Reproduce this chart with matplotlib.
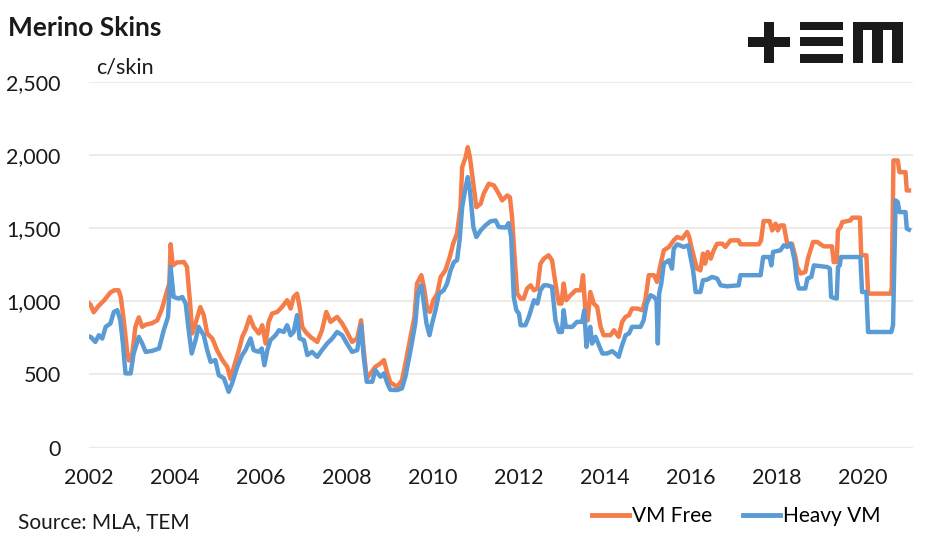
import matplotlib
matplotlib.use("Agg")
import matplotlib.pyplot as plt
from matplotlib.patches import Rectangle
from matplotlib.lines import Line2D

plt.rcParams['font.family'] = ['Lato', 'DejaVu Sans']

# values (c/skin), decimal years
free_yr = [2002.00, 2002.05, 2002.12, 2002.24, 2002.36, 2002.51, 2002.60, 2002.70, 2002.75, 2002.82,
           2002.90, 2002.94, 2003.02, 2003.09, 2003.17, 2003.25, 2003.33, 2003.48, 2003.60, 2003.71,
           2003.83, 2003.88, 2003.91, 2003.96, 2004.06, 2004.22, 2004.29, 2004.37, 2004.41, 2004.49,
           2004.60, 2004.68, 2004.76, 2004.88, 2004.99, 2005.11, 2005.23, 2005.30, 2005.38, 2005.50,
           2005.58, 2005.65, 2005.75, 2005.84, 2005.96, 2006.04, 2006.12, 2006.19, 2006.27, 2006.39,
           2006.50, 2006.62, 2006.70, 2006.77, 2006.85, 2006.91, 2006.97, 2007.05, 2007.16, 2007.32,
           2007.43, 2007.53, 2007.63, 2007.78, 2007.90, 2008.01, 2008.13, 2008.25, 2008.34, 2008.40,
           2008.47, 2008.56, 2008.67, 2008.79, 2008.87, 2008.95, 2009.02, 2009.18, 2009.29, 2009.37,
           2009.49, 2009.58, 2009.64, 2009.74, 2009.80, 2009.88, 2009.94, 2010.02, 2010.11, 2010.19,
           2010.30, 2010.40, 2010.48, 2010.57, 2010.65, 2010.69, 2010.77, 2010.82, 2010.87, 2010.95,
           2011.02, 2011.12, 2011.19, 2011.31, 2011.43, 2011.54, 2011.62, 2011.74, 2011.80, 2011.85,
           2011.91, 2011.97, 2012.05, 2012.12, 2012.20, 2012.28, 2012.36, 2012.44, 2012.51, 2012.59,
           2012.70, 2012.78, 2012.86, 2012.94, 2013.00, 2013.05, 2013.11, 2013.21, 2013.33, 2013.45,
           2013.50, 2013.55, 2013.61, 2013.67, 2013.75, 2013.83, 2013.91, 2013.98, 2014.14, 2014.22,
           2014.33, 2014.41, 2014.49, 2014.57, 2014.64, 2014.76, 2014.88, 2014.95, 2015.03, 2015.15,
           2015.22, 2015.29, 2015.38, 2015.50, 2015.61, 2015.69, 2015.81, 2015.92, 2015.97, 2016.02,
           2016.08, 2016.15, 2016.23, 2016.29, 2016.34, 2016.40, 2016.47, 2016.54, 2016.62, 2016.74,
           2016.81, 2016.93, 2017.12, 2017.16, 2017.59, 2017.64, 2017.70, 2017.84, 2017.90, 2017.98,
           2018.03, 2018.09, 2018.17, 2018.25, 2018.36, 2018.44, 2018.48, 2018.56, 2018.67, 2018.73,
           2018.79, 2018.85, 2018.95, 2019.02, 2019.10, 2019.29, 2019.33, 2019.40, 2019.43, 2019.49,
           2019.53, 2019.72, 2019.76, 2019.94, 2019.97, 2020.09, 2020.13, 2020.65, 2020.68, 2020.72,
           2020.82, 2020.86, 2021.00, 2021.03, 2021.08]
free_val = [990, 975, 925, 970, 1005, 1060, 1075, 1075, 1030, 870,
            650, 595, 645, 825, 890, 825, 840, 850, 870, 950,
            1075, 1120, 1390, 1245, 1265, 1268, 1235, 960, 780, 850,
            960, 905, 780, 745, 665, 600, 550, 470, 550, 670,
            760, 802, 893, 825, 780, 836, 711, 859, 916, 927,
            961, 1007, 950, 1029, 1052, 961, 825, 790, 757, 722,
            802, 927, 859, 893, 848, 790, 722, 746, 870, 666,
            473, 507, 552, 575, 598, 507, 445, 416, 460, 575,
            757, 893, 1121, 1178, 1098, 939, 927, 1007, 1052, 1166,
            1211, 1302, 1393, 1462, 1643, 1916, 1984, 2052, 1984, 1803,
            1643, 1666, 1735, 1803, 1791, 1735, 1689, 1723, 1711, 1575,
            1302, 1052, 1018, 1018, 1087, 1109, 1075, 1087, 1257, 1291,
            1314, 1280, 1121, 984, 984, 1121, 1007, 1041, 1075, 1075,
            1178, 961, 870, 1063, 984, 961, 825, 768, 768, 802,
            757, 859, 893, 905, 950, 950, 939, 1007, 1178, 1178,
            1132, 1234, 1348, 1371, 1416, 1439, 1428, 1473, 1440, 1371,
            1302, 1223, 1211, 1325, 1257, 1337, 1291, 1348, 1393, 1393,
            1371, 1416, 1416, 1389, 1389, 1416, 1548, 1548, 1484, 1530,
            1484, 1518, 1518, 1393, 1393, 1302, 1234, 1189, 1200, 1291,
            1348, 1405, 1405, 1390, 1375, 1375, 1268, 1268, 1484, 1507,
            1541, 1552, 1571, 1571, 1314, 1314, 1052, 1052, 1087, 1962,
            1962, 1882, 1882, 1757, 1757]

heavy_yr = [2002.00, 2002.05, 2002.16, 2002.24, 2002.32, 2002.40, 2002.51, 2002.59, 2002.67, 2002.74,
            2002.80, 2002.86, 2002.98, 2003.05, 2003.17, 2003.25, 2003.33, 2003.48, 2003.64, 2003.75,
            2003.85, 2003.91, 2003.98, 2004.10, 2004.18, 2004.26, 2004.33, 2004.40, 2004.49, 2004.56,
            2004.68, 2004.76, 2004.84, 2004.95, 2005.03, 2005.15, 2005.26, 2005.34, 2005.46, 2005.57,
            2005.65, 2005.77, 2005.84, 2005.96, 2006.03, 2006.09, 2006.16, 2006.23, 2006.35, 2006.43,
            2006.54, 2006.62, 2006.70, 2006.77, 2006.85, 2006.91, 2007.01, 2007.09, 2007.20, 2007.32,
            2007.43, 2007.55, 2007.67, 2007.78, 2007.90, 2008.01, 2008.13, 2008.25, 2008.34, 2008.40,
            2008.47, 2008.60, 2008.67, 2008.79, 2008.87, 2008.95, 2009.02, 2009.18, 2009.29, 2009.37,
            2009.49, 2009.60, 2009.66, 2009.74, 2009.80, 2009.86, 2009.93, 2009.99, 2010.07, 2010.15,
            2010.26, 2010.34, 2010.42, 2010.50, 2010.57, 2010.63, 2010.69, 2010.77, 2010.82, 2010.87,
            2010.95, 2011.02, 2011.12, 2011.23, 2011.35, 2011.47, 2011.54, 2011.70, 2011.77, 2011.83,
            2011.89, 2011.95, 2012.01, 2012.05, 2012.16, 2012.24, 2012.36, 2012.44, 2012.51, 2012.59,
            2012.67, 2012.78, 2012.86, 2012.94, 2013.01, 2013.05, 2013.10, 2013.25, 2013.36, 2013.48,
            2013.53, 2013.58, 2013.62, 2013.67, 2013.71, 2013.79, 2013.87, 2013.95, 2014.06, 2014.18,
            2014.25, 2014.33, 2014.41, 2014.49, 2014.57, 2014.64, 2014.84, 2014.91, 2014.98, 2015.07,
            2015.15, 2015.21, 2015.24, 2015.27, 2015.32, 2015.38, 2015.50, 2015.57, 2015.61, 2015.69,
            2015.84, 2015.95, 2016.00, 2016.06, 2016.12, 2016.23, 2016.29, 2016.39, 2016.50, 2016.62,
            2016.70, 2016.85, 2017.12, 2017.16, 2017.63, 2017.69, 2017.84, 2017.88, 2017.92, 2018.09,
            2018.17, 2018.25, 2018.33, 2018.37, 2018.42, 2018.47, 2018.52, 2018.67, 2018.72, 2018.81,
            2018.87, 2019.18, 2019.24, 2019.27, 2019.40, 2019.43, 2019.47, 2019.50, 2019.95, 2019.99,
            2020.09, 2020.13, 2020.67, 2020.71, 2020.77, 2020.82, 2020.86, 2021.00, 2021.03, 2021.08]
heavy_val = [760, 757, 722, 768, 745, 825, 848, 927, 939, 870,
             711, 507, 507, 643, 757, 711, 654, 661, 677, 802,
             893, 1234, 1029, 1018, 1029, 984, 802, 643, 734, 825,
             768, 666, 586, 598, 495, 473, 381, 439, 552, 630,
             666, 746, 666, 654, 677, 563, 666, 734, 768, 802,
             790, 836, 768, 790, 905, 746, 734, 632, 654, 620,
             666, 711, 746, 790, 768, 711, 654, 666, 836, 620,
             450, 450, 529, 484, 507, 439, 395, 393, 405, 484,
             666, 848, 1052, 1109, 984, 848, 768, 848, 939, 1052,
             1075, 1121, 1211, 1268, 1280, 1416, 1643, 1780, 1848, 1757,
             1507, 1439, 1484, 1518, 1546, 1552, 1507, 1503, 1534, 1439,
             1029, 939, 916, 836, 836, 893, 1007, 984, 1075, 1109,
             1109, 1098, 870, 790, 790, 939, 825, 825, 859, 859,
             939, 688, 780, 825, 711, 757, 700, 643, 643, 659,
             643, 620, 700, 768, 780, 825, 825, 870, 984, 1041,
             1029, 1007, 711, 1052, 1121, 1257, 1280, 1223, 1359, 1389,
             1371, 1382, 1302, 1211, 1063, 1063, 1143, 1148, 1166, 1155,
             1109, 1102, 1109, 1178, 1178, 1302, 1302, 1245, 1337, 1348,
             1382, 1371, 1393, 1348, 1280, 1143, 1087, 1087, 1155, 1166,
             1245, 1234, 1223, 1029, 1018, 1234, 1245, 1302, 1302, 1063,
             1063, 790, 790, 836, 1689, 1677, 1609, 1609, 1496, 1489]

year_ticks = list(range(2002, 2021, 2))
y_ticks = [0, 500, 1000, 1500, 2000, 2500]

orange = '#F47D4A'
blue = '#5B9BD5'

W, H = 947, 539
fig = plt.figure(figsize=(W / 100, H / 100), dpi=100)
ax = fig.add_axes([88.5 / W, 1 - 447.6 / H, (912.5 - 88.5) / W, (447.6 - 81.7) / H])

l1, = ax.plot(free_yr, free_val, color=orange, lw=3.2, solid_joinstyle='round', zorder=3)
l2, = ax.plot(heavy_yr, heavy_val, color=blue, lw=3.2, solid_joinstyle='round', zorder=4)

ax.set_xlim(2002, 2002 + (912.5 - 88.5) / 43.0)
ax.set_ylim(0, 2500)
ax.set_xticks(year_ticks)
ax.set_yticks(y_ticks)
ax.set_yticklabels([f'{v:,}' for v in y_ticks])
ax.yaxis.grid(True, color='#ECECE4', lw=1.4, zorder=0)
ax.axhline(0, color='#D9D9D9', lw=1.6, zorder=1)
for s in ax.spines.values():
    s.set_visible(False)
ax.tick_params(axis='both', length=0, labelsize=15.5, colors='#1a1a1a')
ax.tick_params(axis='y', pad=20)
ax.tick_params(axis='x', pad=15)

fig.text(8 / W, 1 - 28 / H, 'Merino Skins', fontsize=19, fontweight='bold', va='center', ha='left', color='#1a1a1a')
fig.text(96 / W, 1 - 68 / H, 'c/skin', fontsize=15.5, va='center', ha='left', color='#1a1a1a')
fig.text(18 / W, 1 - 522 / H, 'Source: MLA, TEM', fontsize=15, va='center', ha='left', color='#1a1a1a')

handles = [Line2D([], [], color=orange, lw=3.5), Line2D([], [], color=blue, lw=3.5)]
fig.legend(handles, ['VM Free', 'Heavy VM'], loc='center right', bbox_to_anchor=(880 / W, 1 - 516 / H),
           ncol=2, frameon=False, fontsize=15, handlelength=1.8, handletextpad=0.1,
           columnspacing=1.5, borderaxespad=0, borderpad=0)

# TEM logo, pixel boxes (x0, y0, x1, y1)
logo = [(748, 37, 790, 47), (764, 22, 774, 63),
        (800, 22, 843, 30), (800, 37, 843, 46), (800, 54, 843, 63),
        (853, 22, 903, 30), (853, 22, 863, 63), (872, 22, 883, 63), (892, 22, 903, 63)]
for x0, y0, x1, y1 in logo:
    fig.patches.append(Rectangle((x0 / W, 1 - y1 / H), (x1 - x0) / W, (y1 - y0) / H,
                                 transform=fig.transFigure, color='#1a1a1a', lw=0))

fig.savefig('out.png', dpi=100)
